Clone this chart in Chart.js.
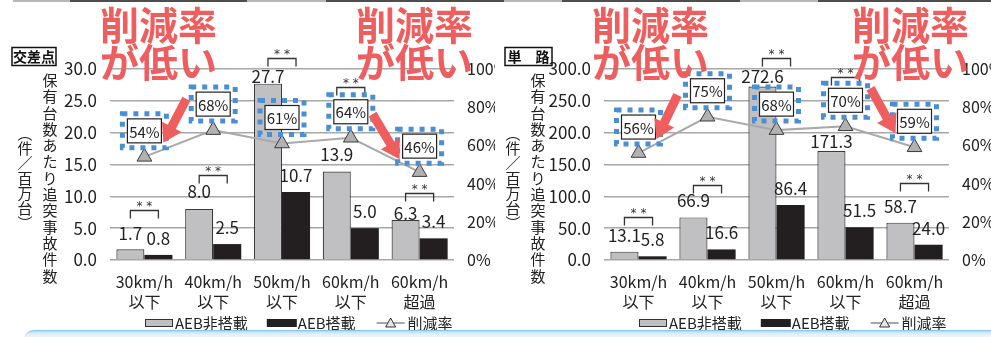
<!DOCTYPE html>
<html lang="ja">
<head>
<meta charset="utf-8">
<script src="https://cdn.jsdelivr.net/npm/chart.js@4.4.1/dist/chart.umd.min.js"></script>
<style>
  html, body { margin: 0; padding: 0; background: #fff; }
  #wrap { position: relative; width: 991px; height: 337px; overflow: hidden; }
  canvas { position: absolute; top: 0; }
  #topRule {
    position: absolute; left: 0; top: 0; width: 991px; height: 2px; z-index: 2;
    background: linear-gradient(to right,
      #fff 0, #fff 13px, #b8b8b8 13px, #b8b8b8 70px, #4d4d4d 70px, #4d4d4d 247px,
      #b8b8b8 247px, #b8b8b8 326px, #4d4d4d 326px, #4d4d4d 504px,
      #b8b8b8 504px, #b8b8b8 562px, #4d4d4d 562px, #4d4d4d 740px,
      #b8b8b8 740px, #b8b8b8 818px, #4d4d4d 818px);
  }
  #bottomBand {
    position: absolute; left: 24px; top: 330px; width: 980px; height: 14px; z-index: 2;
    border-top: 1px solid #8dc5ea; border-radius: 10px 0 0 0;
    background: linear-gradient(to bottom, #b4dbf4 0, #dff0fb 3px, #f3f9fe 8px);
  }
</style>
</head>
<body>
<div id="wrap">
  <div id="topRule"></div>
  <canvas id="cJunction" width="495" height="337" style="left:0"></canvas>
  <canvas id="cRoad" width="496" height="337" style="left:495px"></canvas>
  <div id="bottomBand"></div>
</div>
<script>
// 速度帯
const categories = [["30km/h", "以下"], ["40km/h", "以下"], ["50km/h", "以下"], ["60km/h", "以下"], ["60km/h", "超過"]];
const seriesNames = ["AEB非搭載", "AEB搭載", "削減率"];

// 交差点
const junctionNoAeb = [1.7, 8.0, 27.7, 13.9, 6.3];
const junctionAeb = [0.8, 2.5, 10.7, 5.0, 3.4];
const junctionRate = [54, 68, 61, 64, 46];

// 単路
const roadNoAeb = [13.1, 66.9, 272.6, 171.3, 58.7];
const roadAeb = [5.8, 16.6, 86.4, 51.5, 24.0];
const roadRate = [56, 75, 68, 70, 59];

const axisTitle = "保有台数あたり追突事故件数";
const axisUnit = "︵件／百万台︶";
const noteLines = ["削減率", "が低い"];

const FONT_NUM = "'Noto Sans CJK JP', sans-serif";
const FONT_JP = "'Noto Sans CJK JP', sans-serif";
const RED = "#ef5e5e";
const BLUE = "#4a8fd4";
const GRAY = "#c0c0c3";
const BLACK = "#231f20";
const INK = "#222";

function arrow(ctx, x1, y1, x2, y2) {
  const a = Math.atan2(y2 - y1, x2 - x1);
  const len = Math.hypot(x2 - x1, y2 - y1);
  const head = 18, hw = 11, sw = 4.5;
  ctx.save();
  ctx.translate(x1, y1);
  ctx.rotate(a);
  ctx.beginPath();
  ctx.moveTo(0, -sw);
  ctx.lineTo(len - head, -sw);
  ctx.lineTo(len - head, -hw);
  ctx.lineTo(len, 0);
  ctx.lineTo(len - head, hw);
  ctx.lineTo(len - head, sw);
  ctx.lineTo(0, sw);
  ctx.closePath();
  ctx.fillStyle = RED;
  ctx.fill();
  ctx.restore();
}

const extras = {
  id: "extras",
  afterDatasetsDraw(chart, args, o) {
    const ctx = chart.ctx;
    const y = chart.scales.y;
    const lineMeta = chart.getDatasetMeta(0);
    const grayMeta = chart.getDatasetMeta(1);
    const blackMeta = chart.getDatasetMeta(2);
    const ds = chart.data.datasets;
    ctx.save();

    // 棒の値
    ctx.font = "17px " + FONT_NUM;
    ctx.fillStyle = INK;
    ctx.textAlign = "center";
    ctx.textBaseline = "alphabetic";
    grayMeta.data.forEach((bar, i) => {
      ctx.fillText(ds[1].data[i].toFixed(1), bar.x, bar.y - o.grayGap[i]);
    });
    blackMeta.data.forEach((bar, i) => {
      ctx.fillText(ds[2].data[i].toFixed(1), bar.x, bar.y - 10);
    });

    // 有意差 **
    o.sigLevels.forEach((lv, i) => {
      const yy = Math.round(y.getPixelForValue(lv)) + 0.5;
      const x1 = grayMeta.data[i].x, x2 = blackMeta.data[i].x;
      ctx.strokeStyle = "#333";
      ctx.lineWidth = 1.3;
      ctx.beginPath();
      ctx.moveTo(x1, yy + 8);
      ctx.lineTo(x1, yy);
      ctx.lineTo(x2, yy);
      ctx.lineTo(x2, yy + 8);
      ctx.stroke();
      ctx.font = "12px 'DejaVu Sans'";
      ctx.fillStyle = "#333";
      ctx.fillText("* *", (x1 + x2) / 2, yy - 1);
    });

    // 削減率の枠
    lineMeta.data.forEach((pt, i) => {
      const cx = pt.x, cy = pt.y - 26;
      ctx.setLineDash([5, 6]);
      ctx.lineWidth = 5;
      ctx.strokeStyle = BLUE;
      ctx.strokeRect(cx - 22, cy - 17, 44, 34);
      ctx.setLineDash([]);
      ctx.fillStyle = "#fff";
      ctx.fillRect(cx - 17, cy - 12, 34, 24);
      ctx.lineWidth = 1.2;
      ctx.strokeStyle = INK;
      ctx.strokeRect(cx - 17, cy - 12, 34, 24);
      ctx.font = "15px " + FONT_NUM;
      ctx.fillStyle = INK;
      ctx.textBaseline = "middle";
      ctx.fillText(ds[0].data[i] + "%", cx, cy + 1);
      ctx.textBaseline = "alphabetic";
    });
    ctx.restore();
  },
  afterDraw(chart, args, o) {
    const ctx = chart.ctx;
    const area = chart.chartArea;
    const lineMeta = chart.getDatasetMeta(0);
    ctx.save();

    // 縦書きの軸タイトル
    ctx.font = "15px " + FONT_JP;
    ctx.fillStyle = INK;
    ctx.textAlign = "center";
    ctx.textBaseline = "middle";
    const midY = area.top + 109;
    [...axisTitle].forEach((ch, k) => {
      ctx.fillText(ch, o.titleX[0], midY + (k - (axisTitle.length - 1) / 2) * 16.3);
    });
    [...axisUnit].forEach((ch, k) => {
      ctx.fillText(ch, o.titleX[1], midY + (k - (axisUnit.length - 1) / 2) * 15);
    });

    // 交差点 / 単路 の見出し
    ctx.lineWidth = 1.5;
    ctx.strokeStyle = "#111";
    ctx.strokeRect(o.tag.x, 47.5, o.tag.w, 18);
    ctx.font = "bold 14px " + FONT_JP;
    ctx.fillStyle = "#111";
    ctx.fillText(o.tag.text, o.tag.x + o.tag.w / 2, 57);

    // 凡例
    const ly = 323;
    let lx = area.left + 35;
    ctx.font = "15px " + FONT_NUM;
    ctx.textAlign = "left";
    ctx.fillStyle = GRAY;
    ctx.fillRect(lx, ly - 4, 28, 8);
    ctx.lineWidth = 1;
    ctx.strokeStyle = "#333";
    ctx.strokeRect(lx + 0.5, ly - 3.5, 27, 7);
    lx += 30;
    ctx.fillStyle = INK;
    ctx.fillText(seriesNames[0], lx, ly);
    lx += ctx.measureText(seriesNames[0]).width + 19;
    ctx.fillStyle = BLACK;
    ctx.fillRect(lx, ly - 4, 30, 8);
    lx += 31;
    ctx.fillStyle = INK;
    ctx.fillText(seriesNames[1], lx, ly);
    lx += ctx.measureText(seriesNames[1]).width + 21;
    ctx.strokeStyle = "#8a8a8a";
    ctx.lineWidth = 1.5;
    ctx.beginPath();
    ctx.moveTo(lx, ly);
    ctx.lineTo(lx + 28, ly);
    ctx.stroke();
    ctx.beginPath();
    ctx.moveTo(lx + 14, ly - 5);
    ctx.lineTo(lx + 19, ly + 4);
    ctx.lineTo(lx + 9, ly + 4);
    ctx.closePath();
    ctx.fillStyle = "#e4e4e4";
    ctx.fill();
    ctx.strokeStyle = "#333";
    ctx.lineWidth = 1;
    ctx.stroke();
    lx += 31;
    ctx.fillStyle = INK;
    ctx.fillText(seriesNames[2], lx, ly);

    // 「削減率が低い」の注記と矢印
    o.notes.forEach(n => {
      const pt = lineMeta.data[n.index];
      const bx = pt.x, by = pt.y - 26;
      ctx.font = "bold 39px " + FONT_JP;
      ctx.fillStyle = RED;
      ctx.textAlign = "center";
      ctx.textBaseline = "middle";
      ctx.fillText(noteLines[0], bx + n.dx, 25);
      ctx.fillText(noteLines[1], bx + n.dx, 62);
      arrow(ctx, bx + n.tail[0], by + n.tail[1], bx + n.tip[0], by + n.tip[1]);
    });
    ctx.restore();
  }
};

function makeChart(id, noAeb, aeb, rate, yMax, yStep, o) {
  return new Chart(document.getElementById(id), {
    type: "bar",
    data: {
      labels: categories,
      datasets: [
        {
          type: "line", label: seriesNames[2], data: rate, yAxisID: "y1", order: 0,
          borderColor: "#a9a9a9", borderWidth: 2,
          pointStyle: "triangle", pointRadius: 8.5,
          pointBackgroundColor: "#b2b2b2", pointBorderColor: "#3a3a3a", pointBorderWidth: 1
        },
        {
          label: seriesNames[0], data: noAeb, order: 1,
          backgroundColor: GRAY, borderColor: "#3a3a3a", borderWidth: 1.2,
          categoryPercentage: 0.815, barPercentage: 1
        },
        {
          label: seriesNames[1], data: aeb, order: 2,
          backgroundColor: BLACK, borderColor: BLACK, borderWidth: 0,
          categoryPercentage: 0.815, barPercentage: 1
        }
      ]
    },
    options: {
      responsive: false,
      animation: false,
      events: [],
      layout: { padding: { top: 69, left: 0, right: 0, bottom: 0 } },
      scales: {
        x: {
          grid: { display: false },
          border: { display: false },
          ticks: { color: INK, font: { family: FONT_NUM, size: 16, lineHeight: 1.25 }, padding: 4, maxRotation: 0 },
          afterFit: s => { s.height = 77; }
        },
        y: {
          min: 0, max: yMax,
          grid: { color: "#a8a8a8", lineWidth: 1.5, drawTicks: false },
          border: { display: false },
          ticks: { stepSize: yStep, color: INK, font: { family: FONT_NUM, size: 17 }, padding: 13,
                   callback: v => v.toFixed(1) },
          afterFit: s => { s.width = o.leftW; }
        },
        y1: {
          position: "right", min: 0, max: 100,
          grid: { drawOnChartArea: false, drawTicks: false },
          border: { display: false },
          ticks: { stepSize: 20, color: INK, font: { family: FONT_NUM, size: 16 }, padding: 13,
                   callback: v => v + "%" },
          afterFit: s => { s.width = o.rightW; }
        }
      },
      plugins: {
        legend: { display: false },
        tooltip: { enabled: false },
        extras: o
      }
    },
    plugins: [extras]
  });
}

makeChart("cJunction", junctionNoAeb, junctionAeb, junctionRate, 30, 5, {
  leftW: 110, rightW: 41,
  grayGap: [9, 11, 1, 11, 0],
  sigLevels: [7.85, 13.3, 31.7, 27.1, 10.5],
  titleX: [50, 25],
  tag: { x: 12, w: 44, text: "交差点" },
  notes: [
    { index: 0, dx: 14, tail: [42, -32], tip: [19, 12] },
    { index: 4, dx: -5, tail: [-47, -32], tip: [-20, 13] }
  ]
});

makeChart("cRoad", roadNoAeb, roadAeb, roadRate, 300, 50, {
  leftW: 109, rightW: 42,
  grayGap: [10, 10, 3, 3, 10],
  sigLevels: [67.5, 117.8, 317, 287, 121],
  titleX: [43, 18],
  tag: { x: 10, w: 47, text: "単　路" },
  notes: [
    { index: 0, dx: 12, tail: [39, -32], tip: [18, 12] },
    { index: 4, dx: -4, tail: [-44, -33], tip: [-19, 12] }
  ]
});
</script>
</body>
</html>
